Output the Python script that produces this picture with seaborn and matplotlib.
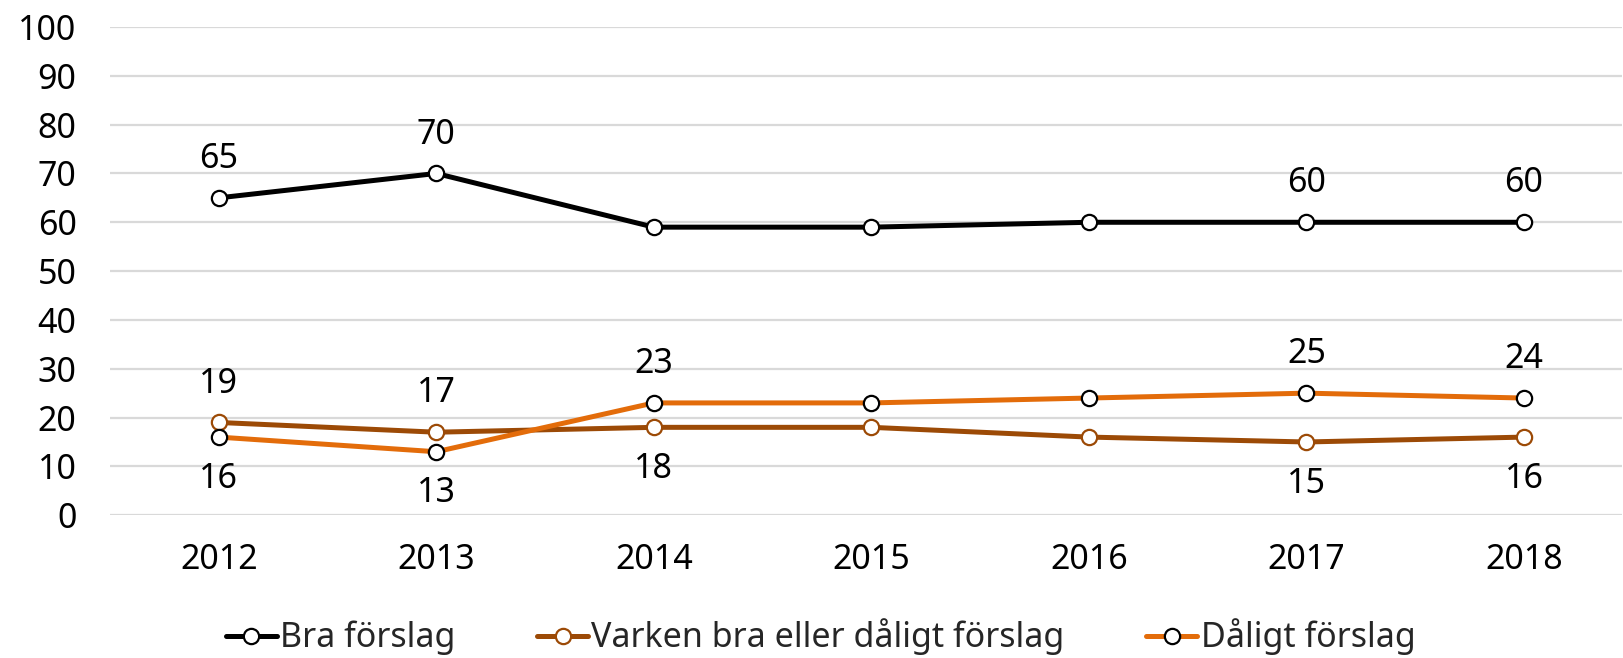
import matplotlib
matplotlib.use("Agg")
import matplotlib.pyplot as plt
import seaborn as sns
import pandas as pd

years = ["2012", "2013", "2014", "2015", "2016", "2017", "2018"]
bra = [65, 70, 59, 59, 60, 60, 60]
varken = [19, 17, 18, 18, 16, 15, 16]
daligt = [16, 13, 23, 23, 24, 25, 24]

series_names = ["Bra förslag", "Varken bra eller dåligt förslag", "Dåligt förslag"]
colors = ["#000000", "#9C4A06", "#E36C0A"]
edge_colors = ["#000000", "#9C4A06", "#000000"]

# which points get a label, and whether above (+1) or below (-1)
bra_labels = {0: 1, 1: 1, 5: 1, 6: 1}
varken_labels = {0: 1, 1: 1, 2: -1, 5: -1, 6: -1}
daligt_labels = {0: -1, 1: -1, 2: 1, 5: 1, 6: 1}

sns.set_theme(style="white")
plt.rcParams["font.family"] = ["Noto Sans", "DejaVu Sans"]
fs = 24.5

fig = plt.figure(figsize=(16.24, 6.58), dpi=100)
ax = fig.add_axes([0.0677, 0.217, 0.931, 0.742])

df = pd.DataFrame({"x": list(range(len(years))) * 3,
                   "value": bra + varken + daligt,
                   "serie": [s for s in series_names for _ in years]})

for name, col, ec in zip(series_names, colors, edge_colors):
    sub = df[df["serie"] == name]
    sns.lineplot(data=sub, x="x", y="value", ax=ax, color=col, linewidth=3.6,
                 marker="o", markersize=11, markerfacecolor="white",
                 markeredgecolor=ec, markeredgewidth=1.6, label=name, zorder=3)

for vals, labs in [(bra, bra_labels), (varken, varken_labels), (daligt, daligt_labels)]:
    for i, d in labs.items():
        off = 28 if d > 0 else 30
        ax.annotate(str(vals[i]), (i, vals[i]), xytext=(0, off * d), textcoords="offset points",
                    ha="center", va="center", fontsize=fs, color="black")

ax.set_ylim(0, 100)
ax.set_yticks(range(0, 101, 10))
ax.set_xlim(-0.5, 6.45)
ax.set_xticks(range(len(years)))
ax.set_xticklabels(years)
ax.set_xlabel("")
ax.set_ylabel("")
ax.grid(axis="y", color="#D9D9D9", linewidth=1.6)
ax.grid(axis="x", visible=False)
for s in ax.spines.values():
    s.set_visible(False)
ax.tick_params(axis="both", length=0, labelsize=fs, colors="black")
ax.tick_params(axis="y", pad=24)
ax.tick_params(axis="x", pad=20)

ax.legend(loc="lower center", bbox_to_anchor=(0.47, -0.35), ncol=3, frameon=False,
          fontsize=fs, handlelength=1.5, handletextpad=0.1, columnspacing=2.4)

fig.savefig("out.png", dpi=100)
